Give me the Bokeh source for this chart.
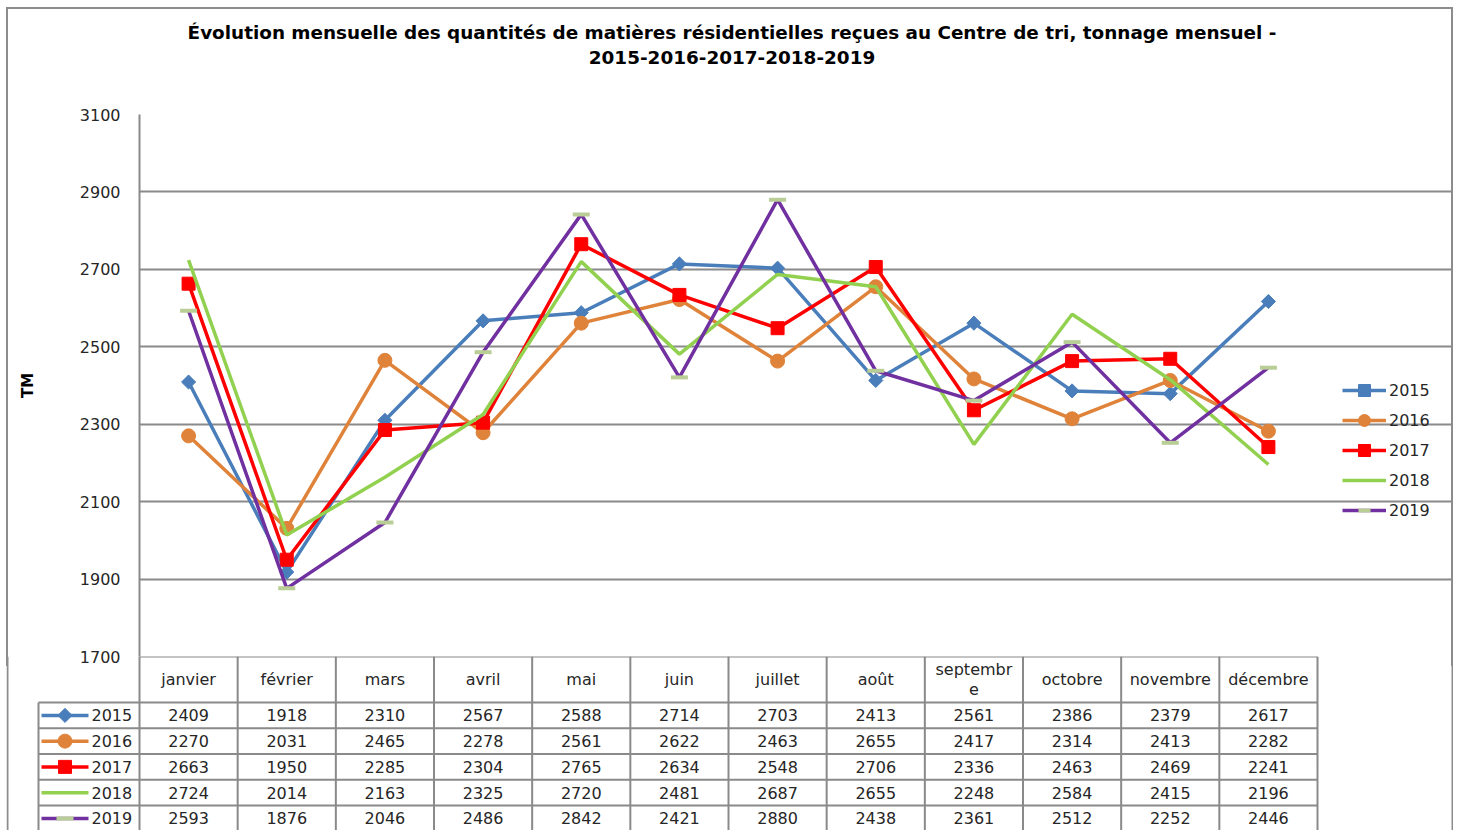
import math
from bokeh.plotting import figure
from bokeh.models import Range1d, FixedTicker, Legend, LegendItem, ColumnDataSource, Label
from bokeh.embed import file_html
from bokeh.resources import INLINE
from bokeh.core.properties import value

# ---------------- data ----------------
months = ["janvier", "février", "mars", "avril", "mai", "juin", "juillet",
          "août", "septembre", "octobre", "novembre", "décembre"]
month_headers = ["janvier", "février", "mars", "avril", "mai", "juin", "juillet",
                 "août", "septembr\ne", "octobre", "novembre", "décembre"]
years = ["2015", "2016", "2017", "2018", "2019"]
v2015 = [2409, 1918, 2310, 2567, 2588, 2714, 2703, 2413, 2561, 2386, 2379, 2617]
v2016 = [2270, 2031, 2465, 2278, 2561, 2622, 2463, 2655, 2417, 2314, 2413, 2282]
v2017 = [2663, 1950, 2285, 2304, 2765, 2634, 2548, 2706, 2336, 2463, 2469, 2241]
v2018 = [2724, 2014, 2163, 2325, 2720, 2481, 2687, 2655, 2248, 2584, 2415, 2196]
v2019 = [2593, 1876, 2046, 2486, 2842, 2421, 2880, 2438, 2361, 2512, 2252, 2446]
series = [v2015, v2016, v2017, v2018, v2019]
y_ticks = [1700, 1900, 2100, 2300, 2500, 2700, 2900, 3100]
title_line1 = "Évolution mensuelle des quantités de matières résidentielles reçues au Centre de tri, tonnage mensuel -"
title_line2 = "2015-2016-2017-2018-2019"
y_label = "TM"

# ---------------- styles ----------------
colors = ["#4A7EBB", "#E0833A", "#FF0000", "#92D050", "#7030A0"]
markers = ["square", "circle", "square", None, "dash"]
mangles = [math.pi / 4, 0, 0, 0, 0]
msizes = [10, 14, 13, 0, 17]
mcolors = ["#4A7EBB", "#E0833A", "#FF0000", None, "#B9CD96"]
FONT = "DejaVu Sans"
TXT = "#262626"
GRID = "#8A8A8A"
BORDER = "#8C8C8C"

X0 = 6            # left page offset of the chart block
W = 1447
FRAME_L, FRAME_R, FRAME_T, FRAME_B = 139, 1317, 114, 656
HT = 100                      # title band height
PAD_T, PAD_B = FRAME_T - HT, 10
HA = FRAME_B - HT + PAD_B     # chart band height
HB = 830 - FRAME_B            # table band height
FL = FRAME_L - X0
COLW = (FRAME_R - FRAME_L) / 12.0


def cx(px):
    return (px - FRAME_L) / COLW


grad = "linear-gradient(%s,%s)" % (BORDER, BORDER)
side_bg = ", ".join([grad + " 0 0/2px 100% no-repeat",
                     grad + " 100% 0/2px 100% no-repeat"])
top_bg = ", ".join([grad + " 0 7px/2px 100% no-repeat",
                    grad + " 100% 7px/2px 100% no-repeat",
                    grad + " 0 7px/100% 2px no-repeat"])

# ---------------- title band ----------------
h = figure(width=W, height=HT, x_range=Range1d(X0, X0 + W), y_range=Range1d(HT, 0),
           x_axis_location=None, y_axis_location=None, min_border=0,
           output_backend="svg", toolbar_location=None)
h.styles = {"margin-left": "%dpx" % X0, "background": top_bg}
h.grid.visible = False
h.outline_line_color = None
h.background_fill_color = None
h.border_fill_color = None
for txt, yy in [(title_line1, 32), (title_line2, 57)]:
    h.add_layout(Label(x=731.5, y=yy, text=txt, text_align="center", text_baseline="middle",
                       text_font=FONT, text_font_size="18.4px", text_font_style="bold",
                       text_color="#000000"))

# ---------------- chart ----------------
xs = [i + 0.5 for i in range(len(months))]
p = figure(width=W, height=HA, x_range=Range1d(0, cx(X0 + W)),
           y_range=Range1d(1700, 3100), x_axis_location=None,
           output_backend="svg", toolbar_location=None,
           min_border_left=FL, min_border_right=0, min_border_top=PAD_T, min_border_bottom=PAD_B)
p.styles = {"margin-left": "%dpx" % X0, "background": side_bg}
p.outline_line_color = None
p.background_fill_color = None
p.border_fill_color = None

p.yaxis.ticker = FixedTicker(ticks=y_ticks)
p.yaxis.axis_line_color = GRID
p.yaxis.axis_line_width = 2
p.yaxis.major_tick_line_color = None
p.yaxis.minor_tick_line_color = None
p.yaxis.major_tick_out = 0
p.yaxis.major_tick_in = 0
p.yaxis.minor_tick_out = 0
p.yaxis.major_label_standoff = 19
p.yaxis.major_label_text_font = FONT
p.yaxis.major_label_text_font_size = "16px"
p.yaxis.major_label_text_color = TXT
p.yaxis.axis_label = y_label
p.yaxis.axis_label_text_font = FONT
p.yaxis.axis_label_text_font_size = "15px"
p.yaxis.axis_label_text_font_style = "bold"
p.yaxis.axis_label_text_color = "#000000"
p.yaxis.axis_label_standoff = 40
p.xgrid.grid_line_color = None
p.ygrid.ticker = FixedTicker(ticks=y_ticks)
p.ygrid.bounds = (0, len(months))
p.ygrid.grid_line_color = GRID
p.ygrid.grid_line_width = 2

items = []
for yr, vals, c, m, ma, ms, mc in zip(years, series, colors, markers, mangles, msizes, mcolors):
    src = ColumnDataSource(dict(x=xs, y=vals))
    rl = p.line("x", "y", source=src, line_color=c, line_width=3.5)
    rs = [rl]
    if m is not None:
        if m == "dash":
            rm = p.scatter("x", "y", source=src, marker=m, size=ms, line_color=mc, line_width=4)
        else:
            rm = p.scatter("x", "y", source=src, marker=m, size=ms, angle=ma,
                           fill_color=mc, line_color=mc)
        rs.append(rm)
    items.append(LegendItem(label=yr, renderers=rs))

legend = Legend(items=items, location=(1342 - FRAME_L, FRAME_B - 525), orientation="vertical",
                glyph_width=44, glyph_height=30, spacing=0, padding=0, margin=0,
                label_standoff=3, label_text_font=FONT, label_text_font_size="16px",
                label_text_color=TXT, border_line_color=None, background_fill_alpha=0)
p.add_layout(legend)

# ---------------- data table ----------------
HEADER = 46.0
ROWH = 25.75

t = figure(width=W, height=HB, x_range=Range1d(cx(X0), cx(X0 + W)), y_range=Range1d(HB, 0),
           x_axis_location=None, y_axis_location=None, min_border=0,
           output_backend="svg", toolbar_location=None)
t.styles = {"margin-left": "%dpx" % X0, "margin-top": "-%dpx" % PAD_B}
t.grid.visible = False
t.outline_line_color = None
t.background_fill_color = None
t.border_fill_color = None

# outer frame sides
t.segment(x0=[cx(X0 + 1), cx(X0 + W - 1)], y0=[0, 0], x1=[cx(X0 + 1), cx(X0 + W - 1)],
          y1=[HB, HB], line_color=BORDER, line_width=2)

# cell borders
LEGX = cx(38)
vx = list(range(13))
t.segment(x0=vx, y0=[0] * 13, x1=vx, y1=[HB + 20] * 13, line_color=GRID, line_width=2)
t.segment(x0=[LEGX], y0=[HEADER], x1=[LEGX], y1=[HB + 20], line_color=GRID, line_width=2)
t.segment(x0=[0], y0=[0], x1=[12], y1=[0], line_color=GRID, line_width=2)
hy = [HEADER + k * ROWH for k in range(6)]
t.segment(x0=[LEGX] * 6, y0=hy, x1=[12] * 6, y1=hy, line_color=GRID, line_width=2)

# header labels
t.text(x=xs, y=[HEADER / 2] * 12, text=month_headers,
       text_align="center", text_baseline="middle", text_font=value(FONT),
       text_font_size="16px", text_color=TXT, text_line_height=1.05)

# values
for k, vals in enumerate(series):
    yc = HEADER + ROWH * (k + 0.5)
    t.text(x=xs, y=[yc] * 12, text=[str(v) for v in vals],
           text_align="center", text_baseline="middle", text_font=value(FONT),
           text_font_size="16px", text_color=TXT)

# legend keys in table
kx0, kx1 = cx(41), cx(88)
kxm = (kx0 + kx1) / 2
klab = cx(91)
for k, (yr, c, m, ma, ms, mc) in enumerate(zip(years, colors, markers, mangles, msizes, mcolors)):
    yc = HEADER + ROWH * (k + 0.5)
    t.segment(x0=[kx0], y0=[yc], x1=[kx1], y1=[yc], line_color=c, line_width=3.5)
    if m is not None:
        if m == "dash":
            t.scatter(x=[kxm], y=[yc], marker=m, size=ms, line_color=mc, line_width=4)
        else:
            t.scatter(x=[kxm], y=[yc], marker=m, size=ms, angle=ma, fill_color=mc, line_color=mc)
    t.text(x=[klab], y=[yc], text=[yr], text_align="left", text_baseline="middle",
           text_font=value(FONT), text_font_size="16px", text_color=TXT)

open("out.html", "w").write(file_html([h, p, t], INLINE))
